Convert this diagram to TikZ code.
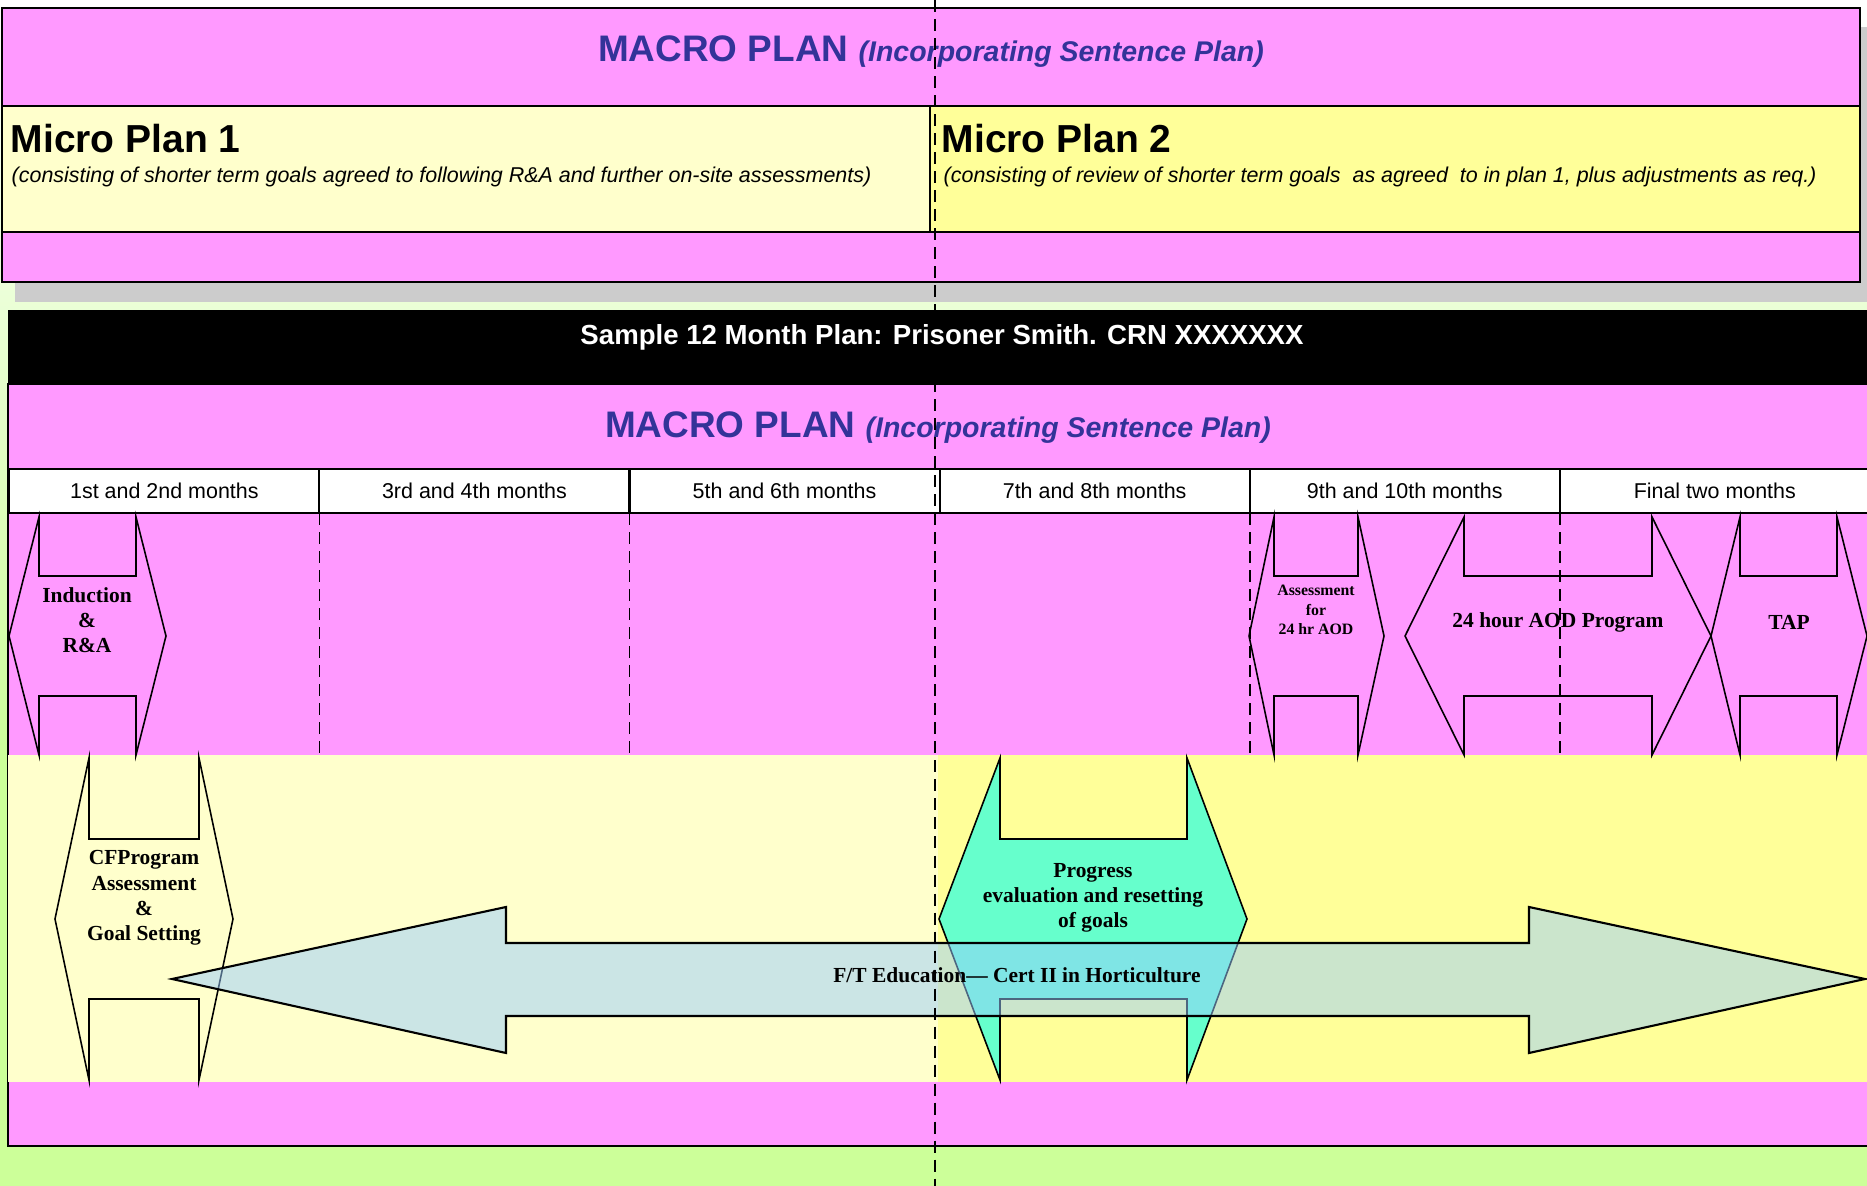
\documentclass[tikz,border=0pt]{standalone}
\usepackage{fontspec}
\setmainfont{Liberation Serif}
\setsansfont{Liberation Sans}
\usetikzlibrary{positioning}

\definecolor{planpink}{HTML}{FF99FF}
\definecolor{paleyellow}{HTML}{FFFFCC}
\definecolor{planyellow}{HTML}{FFFF99}
\definecolor{titleblue}{HTML}{333399}
\definecolor{aqua}{HTML}{66FFCC}
\definecolor{edublue}{HTML}{99CCFF}
\definecolor{shadowgray}{HTML}{CCCCCC}
\definecolor{lightgreen}{HTML}{CCFF99}

\newcommand{\incfont}{\sffamily\bfseries\itshape\fontsize{8.1}{10}\selectfont}

% notched hexagon: style, left tip, inner left, inner right, right tip, top, bottom, notch depth
\newcommand{\stageshape}[8]{%
  \draw[#1] (#3,#6) -- (#3,#6+#8) -- (#4,#6+#8) -- (#4,#6)
    -- (#5,{(#6+#7)/2}) -- (#4,#7) -- (#4,#7-#8) -- (#3,#7-#8) -- (#3,#7)
    -- (#2,{(#6+#7)/2}) -- cycle;}

\begin{document}
\begin{tikzpicture}[
  x=0.01cm, y=-0.01cm,
  frame/.style={draw, line width=0.6pt},
  title/.style={font=\sffamily\bfseries\fontsize{10.5}{12}\selectfont, text=titleblue, inner sep=0pt, anchor=base},
  micro/.style={font=\sffamily\bfseries\fontsize{11.1}{12}\selectfont, anchor=base west, inner sep=0pt},
  microsub/.style={font=\sffamily\itshape\fontsize{6.1}{7}\selectfont, anchor=base west, inner sep=0pt},
  month/.style={draw, fill=white, line width=0.6pt, minimum width=3.099cm, minimum height=0.44cm,
    outer sep=0pt, font=\sffamily\fontsize{6.1}{7}\selectfont, inner sep=0pt},
  stage/.style={draw, line width=0.45pt},
  stagetext/.style={font=\bfseries\fontsize{6.1}{7.2}\selectfont, align=center, inner sep=0pt},
  smalltext/.style={font=\bfseries\fontsize{4.5}{5.5}\selectfont, align=center, inner sep=0pt},
  monthsep/.style={dash pattern=on 0.12cm off 0.07cm, line width=0.5pt},
  divider/.style={dash pattern=on 0.12cm off 0.07cm, line width=0.6pt}
]
  \useasboundingbox (0,0) rectangle (1867,1186);
  \clip (0,0) rectangle (1867,1186);

  % background
  \fill[lightgreen] (0,0) rectangle (1867,1186);
  \shade[top color=white, bottom color=lightgreen] (0,0) rectangle (1867,760);

  % upper plan
  \fill[shadowgray] (15,27) rectangle (1880,302);
  \draw[frame, fill=planpink] (2,8) rectangle (1860,282);
  \draw[frame, fill=paleyellow] (2,106) rectangle (930,232);
  \draw[frame, fill=planyellow] (930,106) rectangle (1860,232);
  \node[title] (macrotop) at (931,62) {MACRO PLAN\ {\incfont (Incorporating Sentence Plan)}};
  \node[micro] (micro1) at (10,153) {Micro Plan 1};
  \node[microsub] (micro1sub) at (11,183) {(consisting of shorter term goals agreed to following R\&A and further on-site assessments)};
  \node[micro] (micro2) at (941,153) {Micro Plan 2};
  \node[microsub] (micro2sub) at (943,183) {(consisting of review of shorter term goals \ as agreed \ to in plan 1, plus adjustments as req.)};

  % sample plan
  \fill[black] (8,310) rectangle (1880,384);
  \draw[frame, fill=planpink] (8,384) rectangle (1880,1146);
  \node[title] (macrobot) at (938,438) {MACRO PLAN\ {\incfont (Incorporating Sentence Plan)}};

  \node[month] (m1) at (164.4,491) {1st and 2nd months};
  \node[month, right=0cm of m1] (m2) {3rd and 4th months};
  \node[month, right=0cm of m2] (m3) {5th and 6th months};
  \node[month, right=0cm of m3] (m4) {7th and 8th months};
  \node[month, right=0cm of m4] (m5) {9th and 10th months};
  \node[month, right=0cm of m5] (m6) {Final two months};

  \fill[paleyellow] (8,755) rectangle (938,1082);
  \fill[planyellow] (938,755) rectangle (1880,1082);

  \draw[monthsep] (m1.south east) -- ++(0,242);
  \draw[monthsep] (m2.south east) -- ++(0,242);
  \draw[monthsep] (m5.south west) -- ++(0,242);
  \draw[monthsep] (m5.south east) -- ++(0,242);

  % stages
  \stageshape{stage}{9}{39}{136}{166}{517}{755}{59}
  \stageshape{stage}{1249}{1274}{1358}{1384}{517}{755}{59}
  \stageshape{stage}{1405}{1464}{1652}{1711}{517}{755}{59}
  \stageshape{stage}{1711}{1740}{1837}{1867}{517}{755}{59}
  \stageshape{stage}{55}{89}{199}{233}{758}{1080}{81}
  \stageshape{stage, fill=aqua}{939}{1000}{1187}{1247}{758}{1080}{81}

  % education arrow
  \draw[line width=0.6pt, fill=edublue, fill opacity=0.5]
    (172,979) -- (506,907) -- (506,943) -- (1529,943) -- (1529,907) -- (1865,979)
    -- (1529,1053) -- (1529,1016) -- (506,1016) -- (506,1053) -- cycle;

  \node[stagetext] (induct) at (87,620) {Induction\\\&\\R\&A};
  \node[smalltext] (assess) at (1316,610) {Assessment\\for\\24 hr AOD};
  \node[stagetext] (aod) at (1558,622) {24 hour AOD Program};
  \node[stagetext] (tap) at (1789,622) {TAP};
  \node[stagetext] (cfprog) at (144,898) {CFProgram\\Assessment\\\&\\Goal Setting};
  \node[stagetext] (progress) at (1093,898) {Progress\\evaluation and resetting\\of goals};
  \node[stagetext] (ftedu) at (1017,975) {F/T Education--- Cert II in Horticulture};

  % half-way line
  \coordinate (divtop) at (935,0);
  \coordinate (divbot) at (935,1186);
  \draw[divider] (divtop) -- (divbot);

  % header over the line
  \fill[black] (8,312) rectangle (1880,382);
  \node[font=\sffamily\bfseries\fontsize{7.85}{9}\selectfont, text=white, anchor=base, inner sep=0pt]
    (header) at (942,345) {Sample 12 Month Plan: Prisoner Smith. CRN XXXXXXX};
\end{tikzpicture}
\end{document}
